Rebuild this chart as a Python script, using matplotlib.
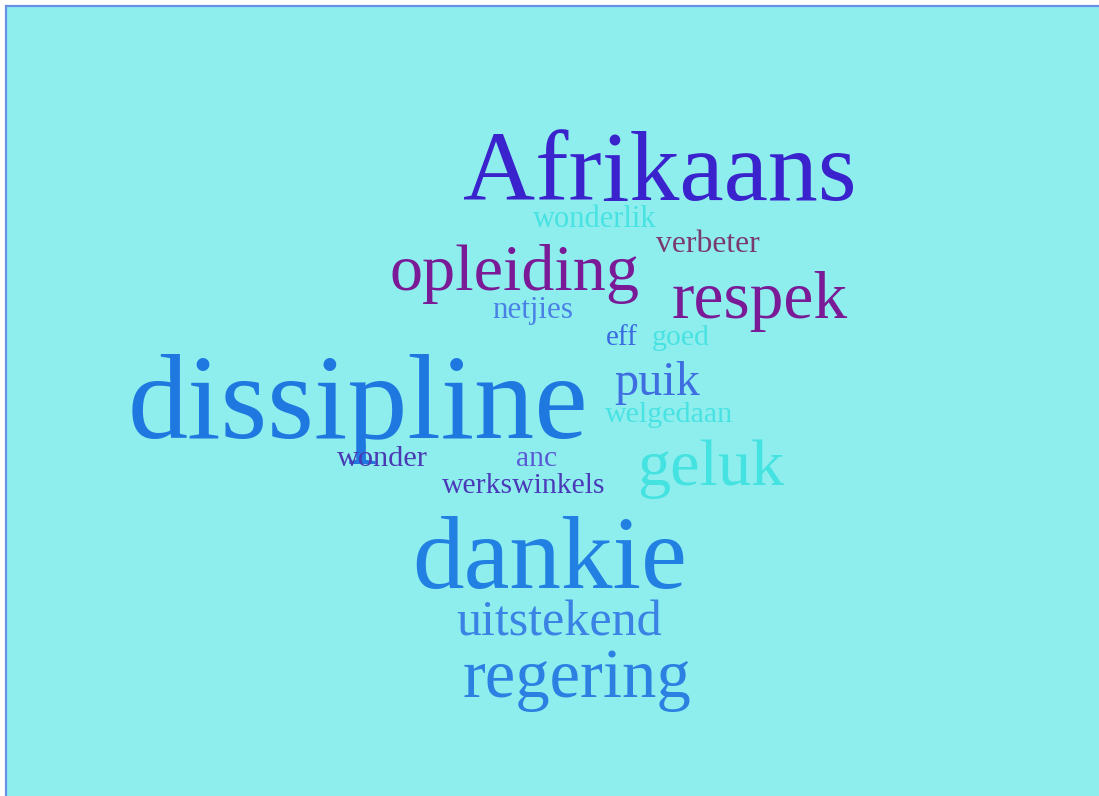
import matplotlib
matplotlib.use("Agg")
import matplotlib.pyplot as plt
from matplotlib.patches import Rectangle

# ---- data ----
words = ["dissipline", "Afrikaans", "dankie", "opleiding", "respek", "geluk",
         "regering", "uitstekend", "puik", "wonderlik", "verbeter", "netjies",
         "eff", "goed", "welgedaan", "wonder", "anc", "werkswinkels"]
weights = [12, 10, 10, 7, 7, 7, 7, 5, 5, 3, 3, 3, 3, 3, 3, 3, 3, 3]
colors = ["#1f78e0", "#3a22cc", "#2280e2", "#7a1a96", "#7a1a96", "#44e2e0",
          "#2c80e2", "#3a82e4", "#3e6ee0", "#48e2e2", "#7a3a6e", "#4a80e4",
          "#3a6ae0", "#48e2e2", "#48e2e2", "#4a3ab4", "#5a5ad4", "#4a3ab8"]

# ---- layout (pixel coords: center x, baseline y, target width) ----
layout = {
    "dissipline": (358, 438, 460),
    "Afrikaans": (660, 200, 394),
    "dankie": (550, 588, 275),
    "opleiding": (515, 290, 250),
    "respek": (760, 318, 176),
    "geluk": (711, 485, 147),
    "regering": (577, 697, 229),
    "uitstekend": (559, 635, 206),
    "puik": (657, 395, 86),
    "wonderlik": (595, 227, 124),
    "verbeter": (708, 252, 104),
    "netjies": (533, 318, 81),
    "eff": (622, 345, 32),
    "goed": (681, 345, 58),
    "welgedaan": (669, 422, 128),
    "wonder": (382, 466, 91),
    "anc": (537, 466, 41),
    "werkswinkels": (524, 493, 164),
}

W, H = 1099, 796
fig = plt.figure(figsize=(W / 100, H / 100), dpi=100)
fig.patch.set_facecolor("white")
ax = fig.add_axes([0, 0, 1, 1])
ax.set_xlim(0, W)
ax.set_ylim(H, 0)
ax.axis("off")

ax.add_patch(Rectangle((6, 6), W + 10, H + 10, facecolor="#8eeeee",
                       edgecolor="#6a90e6", linewidth=1.6))

fig.canvas.draw()
renderer = fig.canvas.get_renderer()
for w, wt, c in zip(words, weights, colors):
    x, y, tw = layout[w]
    fs = 8 + wt * 6
    t = ax.text(x, y, w, fontsize=fs, color=c, ha="center", va="baseline",
                family=["Liberation Serif", "DejaVu Serif"])
    bb = t.get_window_extent(renderer=renderer)
    t.set_fontsize(fs * tw / bb.width)

fig.savefig("out.png", dpi=100, facecolor="white")
